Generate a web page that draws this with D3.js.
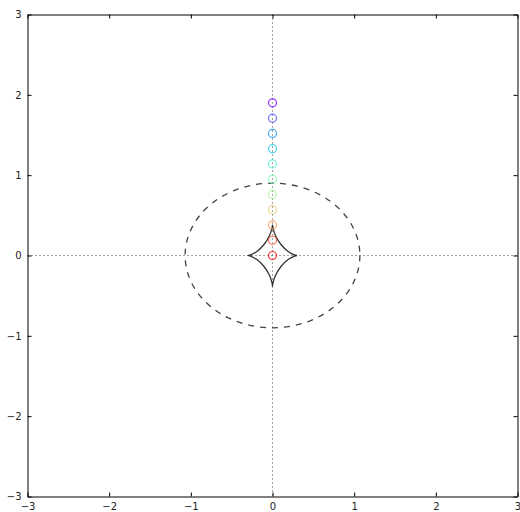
<!DOCTYPE html>
<html>
<head>
<meta charset="utf-8">
<script src="https://cdn.jsdelivr.net/npm/d3@7"></script>
<style>
  body { margin: 0; background: #fff; }
  svg { display: block; font-family: 'DejaVu Sans', sans-serif; }
</style>
</head>
<body>
<div id="chart"></div>
<script>
// tick values on both axes
const xTicks = [-3, -2, -1, 0, 1, 2, 3];
const yTicks = [-3, -2, -1, 0, 1, 2, 3];

// circle markers along x = 0 (bottom red -> top purple)
const pointX = [0, 0, 0, 0, 0, 0, 0, 0, 0, 0, 0];
const pointY = [0, 0.19, 0.38, 0.57, 0.76, 0.95, 1.14, 1.33, 1.52, 1.71, 1.9];
const pointColors = ['#ff0000', '#ff4f28', '#ff964f', '#e6ce74', '#b3f396', '#80ffb4',
  '#4df3ce', '#1acee3', '#1a96f3', '#4d4ffc', '#8000ff'];

// dashed ellipse (centre and semi-axes)
const ellipseCx = 0, ellipseCy = 0, ellipseRx = 1.07, ellipseRy = 0.9;

// astroid-like caustic
const astroidX = [0.3, 0.27, 0.195, 0.106, 0.0375, 0.0052, 0, -0.0052, -0.0375, -0.106, -0.195, -0.27,
  -0.3, -0.27, -0.195, -0.106, -0.0375, -0.0052, 0, 0.0052, 0.0375, 0.106, 0.195, 0.27, 0.3];
const astroidY = [0, 0.0066, 0.0475, 0.134, 0.247, 0.343, 0.38, 0.343, 0.247, 0.134, 0.0475, 0.0066,
  0, -0.0066, -0.0475, -0.134, -0.247, -0.343, -0.38, -0.343, -0.247, -0.134, -0.0475, -0.0066, 0];

const width = 520, height = 512;
const margin = { top: 14.5, right: 2.5, bottom: 15.5, left: 27.5 };
const w = width - margin.left - margin.right;
const h = height - margin.top - margin.bottom;

const svg = d3.select('#chart').append('svg')
  .attr('width', width)
  .attr('height', height);

const g = svg.append('g').attr('transform', `translate(${margin.left},${margin.top})`);

const x = d3.scaleLinear().domain([-3, 3]).range([0, w]);
const y = d3.scaleLinear().domain([-3, 3]).range([h, 0]);

const fmt = d => (d < 0 ? '\u2212' + Math.abs(d) : '' + d);

// clip for the plot area
svg.append('defs').append('clipPath').attr('id', 'clip')
  .append('rect').attr('width', w).attr('height', h);
const plot = g.append('g').attr('clip-path', 'url(#clip)');

// dotted zero lines
plot.append('line')
  .attr('x1', 0).attr('x2', w).attr('y1', y(0)).attr('y2', y(0))
  .attr('stroke', '#333').attr('stroke-width', 0.9).attr('stroke-dasharray', '1,3');
plot.append('line')
  .attr('x1', x(0)).attr('x2', x(0)).attr('y1', 0).attr('y2', h)
  .attr('stroke', '#333').attr('stroke-width', 0.9).attr('stroke-dasharray', '1,3');

// dashed ellipse
plot.append('ellipse')
  .attr('cx', x(ellipseCx)).attr('cy', y(ellipseCy))
  .attr('rx', x(ellipseRx) - x(0)).attr('ry', y(0) - y(ellipseRy))
  .attr('fill', 'none').attr('stroke', '#222').attr('stroke-opacity', 0.85)
  .attr('stroke-width', 1.3).attr('stroke-dasharray', '6,6');

// astroid
const astroid = astroidX.map((d, i) => [d, astroidY[i]]);
plot.append('path')
  .datum(astroid)
  .attr('fill', 'none').attr('stroke', '#111').attr('stroke-opacity', 0.85)
  .attr('stroke-width', 1.3)
  .attr('d', d3.line().x(d => x(d[0])).y(d => y(d[1])).curve(d3.curveCatmullRom.alpha(0.5)));

// circle markers
plot.selectAll('.pt')
  .data(pointY.map((d, i) => ({ x: pointX[i], y: d, c: pointColors[i] })))
  .enter().append('circle')
  .attr('class', 'pt')
  .attr('cx', d => x(d.x)).attr('cy', d => y(d.y))
  .attr('r', 4)
  .attr('fill', 'none')
  .attr('stroke', d => d.c)
  .attr('stroke-opacity', 0.8)
  .attr('stroke-width', 1.2);

// axes with inward ticks on all four sides
const tickLen = 4;
const axes = [
  { gen: d3.axisBottom(x).tickValues(xTicks).tickFormat(fmt), t: `translate(0,${h})`, inner: -tickLen },
  { gen: d3.axisTop(x).tickValues(xTicks).tickFormat(''), t: 'translate(0,0)', inner: -tickLen },
  { gen: d3.axisLeft(y).tickValues(yTicks).tickFormat(fmt), t: 'translate(0,0)', inner: -tickLen },
  { gen: d3.axisRight(y).tickValues(yTicks).tickFormat(''), t: `translate(${w},0)`, inner: -tickLen },
];
axes.forEach((a, i) => {
  const ax = g.append('g')
    .attr('transform', a.t)
    .call(a.gen.tickSizeInner(a.inner).tickSizeOuter(0).tickPadding(6));
  ax.select('.domain').attr('stroke', '#000').attr('stroke-width', 1);
  ax.selectAll('.tick line').attr('stroke', '#000');
  ax.selectAll('.tick text').attr('fill', '#222').attr('font-size', 10)
    .attr('font-family', "'DejaVu Sans', sans-serif");
});
</script>
</body>
</html>
